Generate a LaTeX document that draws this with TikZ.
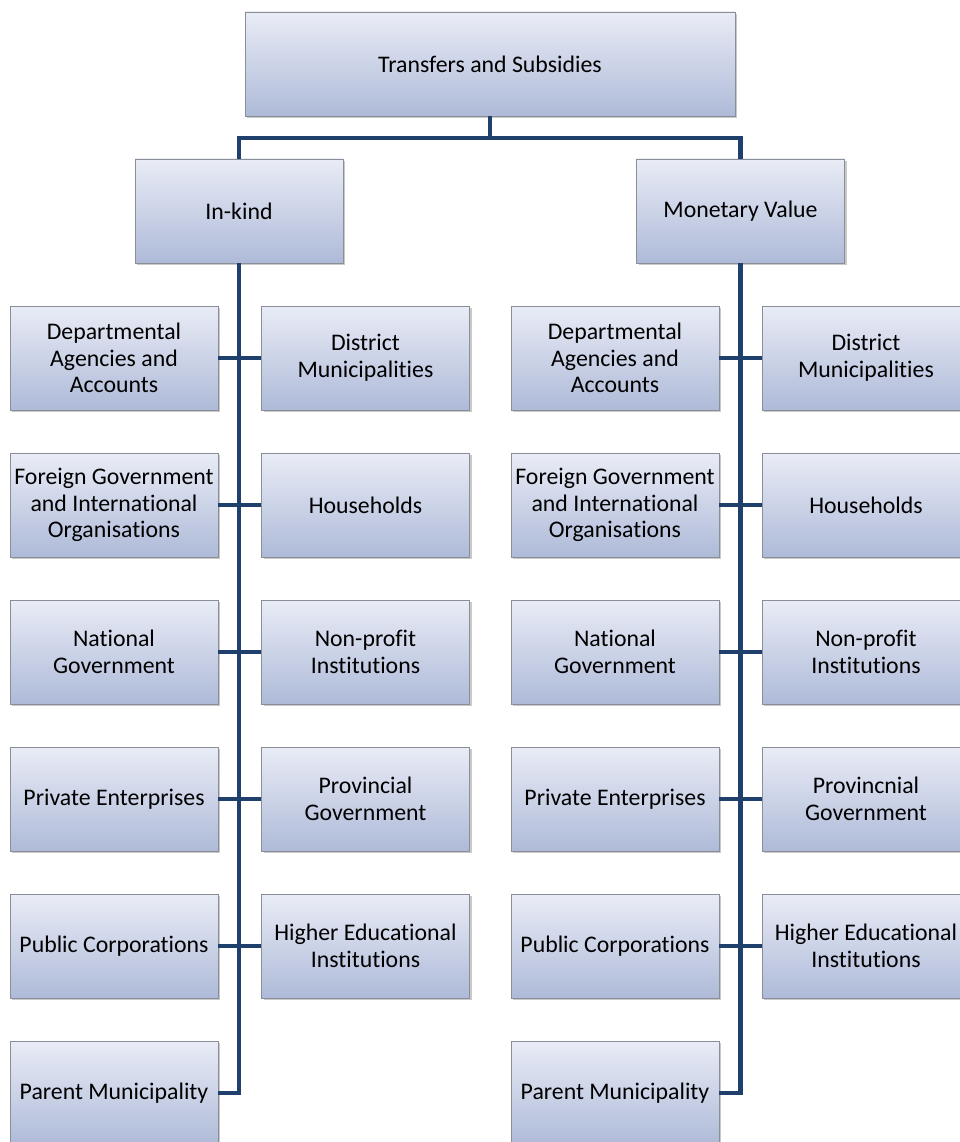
\documentclass[tikz,border=0pt]{standalone}
\usepackage{fontspec}
\setmainfont{Carlito}[Ligatures=NoCommon]
\usetikzlibrary{shadows}
\definecolor{boxtop}{HTML}{E9ECF6}
\definecolor{boxbot}{HTML}{AEBAD8}
\definecolor{boxline}{HTML}{8A8E96}
\definecolor{linkblue}{HTML}{1F3F6C}
\tikzset{
  unit/.style={rectangle, draw=boxline, line width=0.8pt,
    top color=boxtop, bottom color=boxbot,
    minimum width=208pt, minimum height=104pt, inner sep=1pt,
    align=center, font=\fontsize{23.8}{26.6}\selectfont,
    drop shadow={shadow xshift=2pt, shadow yshift=-2pt, opacity=0.35, fill=black!60}},
  link/.style={draw=linkblue, line width=4.5pt, line join=miter}
}
\begin{document}
\begin{tikzpicture}[x=1pt,y=-1pt]
\useasboundingbox (0,0) rectangle (960,1142);
\clip (0,0) rectangle (960,1142);
\fill[white] (0,0) rectangle (960,1142);

% root and the two branches
\node[unit, minimum width=490pt] (root) at (490,64) {Transfers and Subsidies};
\node[unit] (ik) at (239,211) {In-kind};
\node[unit] (mv) at (740.5,211) {Monetary Value};

% In-kind group
\node[unit] (a1) at (114,358) {Departmental\\Agencies and\\Accounts};
\node[unit] (b1) at (365.5,358) {District\\Municipalities};
\node[unit] (a2) at (114,505) {Foreign Government\\and International\\Organisations};
\node[unit] (b2) at (365.5,505) {Households};
\node[unit] (a3) at (114,652) {National\\Government};
\node[unit] (b3) at (365.5,652) {Non-profit\\Institutions};
\node[unit] (a4) at (114,799) {Private Enterprises};
\node[unit] (b4) at (365.5,799) {Provincial\\Government};
\node[unit] (a5) at (114,946) {Public Corporations};
\node[unit] (b5) at (365.5,946) {Higher Educational\\Institutions};
\node[unit] (a6) at (114,1093) {Parent Municipality};

% Monetary value group
\node[unit] (c1) at (615,358) {Departmental\\Agencies and\\Accounts};
\node[unit] (d1) at (866,358) {District\\Municipalities};
\node[unit] (c2) at (615,505) {Foreign Government\\and International\\Organisations};
\node[unit] (d2) at (866,505) {Households};
\node[unit] (c3) at (615,652) {National\\Government};
\node[unit] (d3) at (866,652) {Non-profit\\Institutions};
\node[unit] (c4) at (615,799) {Private Enterprises};
\node[unit] (d4) at (866,799) {Provincnial\\Government};
\node[unit] (c5) at (615,946) {Public Corporations};
\node[unit] (d5) at (866,946) {Higher Educational\\Institutions};
\node[unit] (c6) at (615,1093) {Parent Municipality};

% connectors
\coordinate (split) at (490,138);
\draw[link] (root.south) -- (split);
\draw[link] (ik.north) |- (split) -| (mv.north);

\draw[link] (ik.south) |- (a6.east);
\draw[link] (mv.south) |- (c6.east);
\foreach \i in {1,...,5}{
  \draw[link] (a\i.east) -- (b\i.west);
  \draw[link] (c\i.east) -- (d\i.west);
}
\end{tikzpicture}
\end{document}
